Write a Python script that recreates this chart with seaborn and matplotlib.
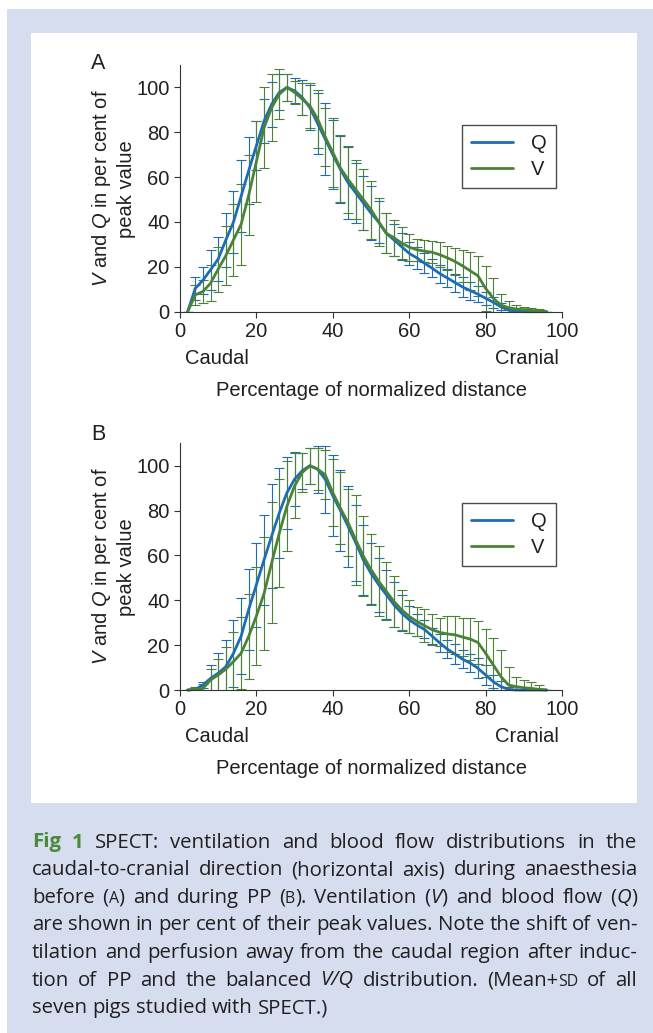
import re
import matplotlib
matplotlib.use("Agg")
import matplotlib.pyplot as plt
import seaborn as sns
from matplotlib.patches import Rectangle

# normalized caudal-to-cranial distance (%)
dist = [2, 4, 6, 8, 10, 12, 14, 16, 18, 20, 22, 24, 26, 28, 30, 32, 34, 36, 38, 40,
        42, 44, 46, 48, 50, 52, 54, 56, 58, 60, 62, 64, 66, 68, 70, 72, 74, 76, 78, 80,
        82, 84, 86, 88, 90, 92, 94, 96]

# panel A - before PP
a_q = [0, 10.4, 14, 18.7, 23.5, 32, 40, 51.5, 63, 74, 85, 92.5, 97.8, 100, 98.5, 95.5, 91, 84, 77, 70,
       63.4, 57.5, 53, 48.5, 44, 40, 35, 32, 29, 26, 24, 21.6, 19.4, 17, 15, 13, 11, 9.4, 7.8, 6,
       4.2, 2.2, 0.7, 0.2, 0, 0, 0, 0]
a_q_sd = [0, 5, 6, 9, 10, 12, 14, 16, 15, 11, 10, 10, 8, 6, 5.5, 8, 10, 13.5, 16, 15.5,
          15, 16, 13.5, 12, 12, 9.5, 9, 7, 6, 5, 5, 4.5, 4, 4, 4, 4, 4.5, 4, 3.5, 3,
          2.5, 1.5, 0.8, 0.4, 0, 0, 0, 0]
a_v = [0, 7.5, 9, 12.7, 19, 25, 32, 39, 52, 67, 82, 91, 97, 100, 97.8, 94.8, 91.8, 86, 78, 71,
       64, 59, 54.5, 50, 45.5, 40, 35, 33, 30.6, 28.8, 27.6, 27, 26.5, 25.4, 24, 22.4, 20.4, 18.2, 16, 10.4,
       6, 3, 1.8, 1.2, 0.9, 0.6, 0.3, 0]
a_v_sd = [0, 4.5, 5, 8, 10, 13, 16, 18, 18, 18, 18, 15, 11, 6, 5, 7, 10, 13, 13, 15.5,
          15, 15, 13, 13.5, 13, 10.5, 9, 8, 7, 6, 5, 5, 5, 5.5, 5.5, 6, 7, 8.5, 9, 10,
          9, 5, 3, 1.8, 1.3, 1, 0.8, 0]

# panel B - during PP
b_q = [0, 0.3, 2.2, 5.2, 7.5, 10.4, 16.4, 24, 36, 47, 58, 68.7, 79, 88, 94, 97.8, 100, 98.5, 94, 86.6,
       80, 73, 65.7, 58, 52, 47, 42.5, 38, 34.3, 31.3, 29, 27, 24, 21, 18.2, 16, 13.7, 12, 9.7, 6.7,
       3.7, 1.5, 0.3, 0, 0, 0, 0, 0]
b_q_sd = [0, 0.5, 1.5, 6, 9, 12, 15, 17, 18, 18.7, 20, 23, 20, 16, 12, 8, 8, 10.5, 15, 18,
          18, 18, 17, 15.5, 13.5, 12, 11, 10, 8, 6, 5, 4, 3.5, 4, 4, 4.5, 4, 4, 4.5, 4.5,
          3, 2.5, 1, 0.3, 0, 0, 0, 0]
b_v = [0, 0.3, 0.7, 4.5, 6.7, 9.3, 12.7, 16.4, 24, 33, 43, 56.7, 70, 82, 91, 97, 100, 98.5, 96, 88,
       81, 74.6, 67, 59.7, 53.7, 48.5, 44, 39.5, 35.8, 32.8, 30.6, 28.7, 26.9, 25.7, 25, 24.6, 23.6, 22.7, 21.2, 16.4,
       11.2, 6, 2.2, 1.5, 1, 0.7, 0.3, 0]
b_v_sd = [0, 1, 2, 5, 7, 10, 13, 16, 19, 22, 25, 27, 24, 20, 14.5, 8.5, 8, 9.5, 11, 15,
          16, 15, 20, 18, 15.7, 15.5, 13, 11.5, 9, 7.5, 6.4, 7.3, 7, 6.3, 8, 8.4, 8.4, 9.3, 9.4, 10.6,
          12, 12, 8, 4.5, 3.5, 3, 2, 0]

x_ticks = [0, 20, 40, 60, 80, 100]
y_ticks = [0, 20, 40, 60, 80, 100]

cap_lines = [
    "{b:Fig} {b:1} SPECT: ventilation and blood flow distributions in the",
    "caudal-to-cranial direction (horizontal axis) during anaesthesia",
    "before ({s:A}) and during PP ({s:B}). Ventilation ({i:V}) and blood flow ({i:Q})",
    "are shown in per cent of their peak values. Note the shift of ven-",
    "tilation and perfusion away from the caudal region after induc-",
    "tion of PP and the balanced {i:V/Q} distribution. (Mean+{s:SD} of all",
    "seven pigs studied with SPECT.)",
]

W, H = 653, 1033
sns.set_style("ticks")
plt.rcParams['font.family'] = ['Liberation Sans', 'DejaVu Sans']
plt.rcParams['mathtext.fontset'] = 'custom'
plt.rcParams['mathtext.rm'] = 'Liberation Sans'
plt.rcParams['mathtext.it'] = 'Liberation Sans:italic'

ink = '#231f20'
blue = '#1c6db6'
green = '#4b8235'
frame_blue = '#d5ddee'
fs = 14.5


def fx(x):
    return x / W


def fy(y):
    return 1 - y / H


fig = plt.figure(figsize=(W / 100, H / 100), dpi=100, facecolor='white')

# light blue frame and white plot area
fig.add_artist(Rectangle((fx(7), fy(1033)), fx(653) - fx(7), fy(9) - fy(1033),
                         transform=fig.transFigure, facecolor=frame_blue, edgecolor='none', zorder=-5))
fig.add_artist(Rectangle((fx(31), fy(803)), fx(637) - fx(31), fy(33) - fy(803),
                         transform=fig.transFigure, facecolor='white', edgecolor='none', zorder=-4))


def draw_panel(top, letter, letter_y, q, q_sd, v, v_sd):
    h = 246.7
    ax = fig.add_axes([fx(180), fy(top + h), fx(562) - fx(180), h / H])
    ax.set_facecolor('none')
    ax.errorbar(dist, q, yerr=q_sd, fmt='none', ecolor=blue, elinewidth=0.8,
                capsize=3.5, capthick=0.8)
    ax.errorbar(dist, v, yerr=v_sd, fmt='none', ecolor=green, elinewidth=0.8,
                capsize=3.5, capthick=0.8)
    sns.lineplot(x=dist, y=q, color=blue, lw=2.0, label='Q', ax=ax, clip_on=False)
    sns.lineplot(x=dist, y=v, color=green, lw=2.0, label='V', ax=ax, clip_on=False)

    ax.set_xlim(0, 100)
    ax.set_ylim(0, 110)
    ax.set_xticks(x_ticks)
    ax.set_yticks(y_ticks)
    ax.set_xlabel('')
    ax.set_ylabel('')
    ax.tick_params(direction='out', length=4.5, width=0.8, color='#333333',
                   labelsize=fs, labelcolor=ink, pad=3)
    sns.despine(ax=ax)
    for s in ['left', 'bottom']:
        ax.spines[s].set_linewidth(0.8)
        ax.spines[s].set_color('#333333')

    leg = ax.legend(loc='upper right', bbox_to_anchor=(0.984, 0.757), frameon=True,
                    fancybox=False, fontsize=fs, handlelength=2.1, handletextpad=0.9,
                    labelspacing=0.35, borderpad=0.45, borderaxespad=0)
    leg.get_frame().set_edgecolor(ink)
    leg.get_frame().set_linewidth(1.0)
    for t in leg.get_texts():
        t.set_color(ink)

    fig.text(fx(98), fy(letter_y), letter, ha='center', va='center', fontsize=15.5, color=ink)
    fig.text(fx(101.7), fy(top + 123), r'$\mathit{V}$ and $\mathit{Q}$ in per cent of',
             rotation=90, ha='center', va='center', fontsize=fs, color=ink)
    fig.text(fx(126.7), fy(top + 124), 'peak value', rotation=90,
             ha='center', va='center', fontsize=fs, color=ink)
    fig.text(fx(216.7), fy(top + 293), 'Caudal', ha='center', va='center', fontsize=fs, color=ink)
    fig.text(fx(526.7), fy(top + 293), 'Cranial', ha='center', va='center', fontsize=fs, color=ink)
    fig.text(fx(371.5), fy(top + 325.7), 'Percentage of normalized distance',
             ha='center', va='center', fontsize=fs, color=ink)
    return ax


draw_panel(65, 'A', 63.5, a_q, a_q_sd, a_v, a_v_sd)
draw_panel(443.3, 'B', 434, b_q, b_q_sd, b_v, b_v_sd)

# caption, justified between the panel edges
cap_size = 14.8
cap_left, cap_right = 32, 637
first_base, line_step = 847.5, 27.6
cap_family = ['Open Sans', 'DejaVu Sans']

renderer = fig.canvas.get_renderer()
lines = []
for i, line in enumerate(cap_lines):
    base = first_base + i * line_step
    words = []
    for w in line.split(' '):
        segs = []
        for style, body, plain in re.findall(r'\{(\w):([^}]*)\}|([^{]+)', w):
            if plain:
                style, body = 'n', plain
            kw = dict(fontsize=cap_size, color=ink, family=cap_family)
            rel = 1.0
            if style == 'b':
                kw.update(fontweight='bold', color='#4a8a3a')
            elif style == 'i':
                kw.update(style='italic')
            elif style == 's':
                rel = 0.78
                kw.update(fontsize=cap_size * rel)
                body = body.upper()
            t = fig.text(0, fy(base), body, ha='left', va='baseline', **kw)
            segs.append([t, rel])
        words.append(segs)
    lines.append(words)

# measure
for words in lines:
    for segs in words:
        for s in segs:
            s.append(s[0].get_window_extent(renderer).width)

space = 0.26 * cap_size * 100 / 72
natural = []
for words in lines:
    ww = sum(s[2] for segs in words for s in segs)
    natural.append(ww + space * (len(words) - 1))
scale = min(1.0, (cap_right - cap_left) / max(natural[:-1]))
if scale < 1.0:
    space *= scale
    for words in lines:
        for segs in words:
            for s in segs:
                s[0].set_fontsize(cap_size * s[1] * scale)
                s[2] *= scale

for k, words in enumerate(lines):
    widths = [sum(s[2] for s in segs) for segs in words]
    if k < len(lines) - 1 and len(words) > 1:
        gap = (cap_right - cap_left - sum(widths)) / (len(words) - 1)
    else:
        gap = space
    x = cap_left
    for segs, wd in zip(words, widths):
        xx = x
        for s in segs:
            s[0].set_x(fx(xx))
            xx += s[2]
        x += wd + gap

fig.savefig('out.png', dpi=100, facecolor='white')
